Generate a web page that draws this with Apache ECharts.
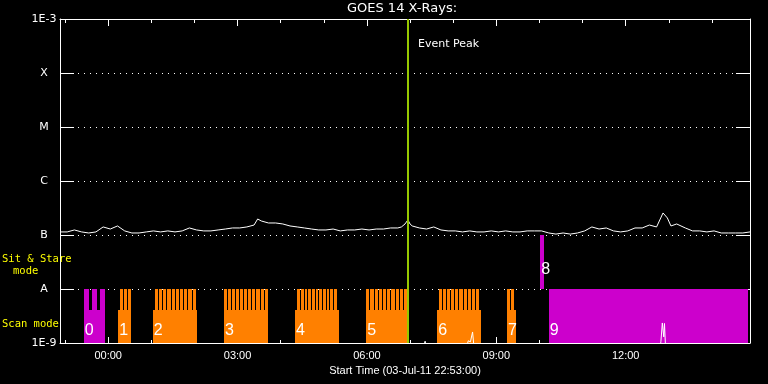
<!DOCTYPE html>
<html><head><meta charset="utf-8">
<script src="https://cdn.jsdelivr.net/npm/echarts@6/dist/echarts.min.js"></script>
<style>html,body{margin:0;padding:0;background:#000}#c{width:768px;height:384px}</style>
</head><body><div id="c"></div>
<script>
// Time is in minutes; start time 22:53 is 67 minutes before 00:00 on 04-Jul.
const startOffsetMin = -67;
const spanMin = 960;
const majorTickMin = [0, 180, 360, 540, 720];
const minorTickMin = [-60, 60, 120, 240, 300, 420, 480, 600, 660, 780, 840];
const levelExps = [-9, -8, -7, -6, -5, -4, -3];
const levelNames = ['1E-9', 'A', 'B', 'C', 'M', 'X', '1E-3'];

// Long channel flux (minutes since start, W/m^2)
const fluxMinutes = [0,10,20,30,40,50,60,70,80,90,100,110,120,130,140,150,160,170,180,190,200,210,220,230,240,250,260,270,275,280,290,300,310,320,330,340,350,360,370,380,390,400,410,420,430,440,450,460,470,475,480,484,487,490,500,510,520,530,540,550,560,570,580,590,600,610,620,630,640,650,660,670,680,690,700,710,720,730,740,750,760,770,780,790,800,810,820,830,839,845,850,858,870,880,890,900,910,920,930,940,950,960];
const fluxValues = [1.14e-7,1.14e-7,1.24e-7,1.14e-7,1.09e-7,1.14e-7,1.41e-7,1.29e-7,1.47e-7,1.19e-7,1.09e-7,1.09e-7,1.14e-7,1.19e-7,1.14e-7,1.19e-7,1.14e-7,1.19e-7,1.35e-7,1.24e-7,1.19e-7,1.19e-7,1.24e-7,1.29e-7,1.35e-7,1.35e-7,1.41e-7,1.53e-7,1.98e-7,1.82e-7,1.67e-7,1.67e-7,1.60e-7,1.47e-7,1.41e-7,1.35e-7,1.29e-7,1.24e-7,1.24e-7,1.29e-7,1.19e-7,1.24e-7,1.24e-7,1.29e-7,1.24e-7,1.29e-7,1.29e-7,1.35e-7,1.35e-7,1.41e-7,1.60e-7,1.90e-7,1.60e-7,1.47e-7,1.35e-7,1.29e-7,1.41e-7,1.24e-7,1.19e-7,1.19e-7,1.14e-7,1.19e-7,1.14e-7,1.14e-7,1.19e-7,1.14e-7,1.19e-7,1.14e-7,1.14e-7,1.19e-7,1.19e-7,1.19e-7,1.09e-7,1.04e-7,1.09e-7,1.04e-7,1.09e-7,1.19e-7,1.41e-7,1.29e-7,1.35e-7,1.19e-7,1.14e-7,1.19e-7,1.35e-7,1.35e-7,1.53e-7,1.41e-7,2.56e-7,2.07e-7,1.47e-7,1.60e-7,1.35e-7,1.19e-7,1.19e-7,1.14e-7,1.19e-7,1.09e-7,1.09e-7,1.09e-7,1.09e-7,1.14e-7];

// Short channel flux (mostly below 1E-9)
const shortMinutes = [0,502,508,512,563,568,571,574,577,833,836,838,840,841,843,960];
const shortValues = [6e-10,6e-10,1.08e-9,6e-10,6e-10,1.1e-9,1.05e-9,1.6e-9,6e-10,6e-10,1.05e-9,2.35e-9,1.3e-9,2.3e-9,6e-10,6e-10];

const eventPeakMinute = 484;

// Observing mode segments (minutes since start)
const segLabels     = ['0','1','2','3','4','5','6','7','8','9'];
const segKind       = ['m','o','o','o','o','o','o','o','m','m'];
const segStart      = [33, 81, 129, 228, 327, 426, 525, 622, 668, 680];
const segEnd        = [63, 99, 191, 289, 388, 486, 586, 634, 673, 957];
const segSpikeStart = [33, 84, 132, 228, 330, 426, 527, 622, 668, 680];
const segSpikeEnd   = [63, 99, 189, 289, 385, 483, 583, 632, 673, 957];
const segSpikeCount = [3, 3, 10, 11, 11, 10, 10, 2, 0, 0];
const segLow        = [1e-9,1e-9,1e-9,1e-9,1e-9,1e-9,1e-9,1e-9,1e-8,1e-9];
const segBaseTop    = [4.1e-9,4.1e-9,4.1e-9,4.1e-9,4.1e-9,4.1e-9,4.1e-9,4.1e-9,1e-7,1e-8];
const segHigh       = [1e-8,1e-8,1e-8,1e-8,1e-8,1e-8,1e-8,1e-8,1e-7,1e-8];

const kindColor = {m: '#cc00cc', o: '#ff8000'};
const kindGap = {m: 3, o: 1};

const toAxis = m => m + startOffsetMin;
const fluxData = fluxMinutes.map((m, i) => [toAxis(m), fluxValues[i]]);
const shortData = shortMinutes.map((m, i) => [toAxis(m), shortValues[i]]);
const segData = segStart.map((s, i) => [toAxis(s), toAxis(segEnd[i]), toAxis(segSpikeStart[i]), toAxis(segSpikeEnd[i]), segSpikeCount[i], segLow[i], segBaseTop[i], segHigh[i]]);

function fmtTime(v) {
  const t = ((Math.round(v) % 1440) + 1440) % 1440;
  const hh = Math.floor(t / 60), mm = t % 60;
  return (hh < 10 ? '0' : '') + hh + ':' + (mm < 10 ? '0' : '') + mm;
}

const chart = echarts.init(document.getElementById('c'), null, {renderer: 'canvas'});
const white = '#ffffff';
const xBase = {type: 'value', min: toAxis(0), max: toAxis(spanMin), splitLine: {show: false}};

const option = {
  backgroundColor: '#000000',
  animation: false,
  grid: {left: 60, right: 18, top: 19, bottom: 41},
  xAxis: [
    Object.assign({}, xBase, {
      position: 'bottom',
      axisLine: {show: true, onZero: false, lineStyle: {color: white, width: 1}},
      axisTick: {show: true, inside: true, length: 6, customValues: majorTickMin, lineStyle: {color: white}},
      axisLabel: {show: true, customValues: majorTickMin, formatter: fmtTime, color: white, fontFamily: 'Liberation Sans', fontSize: 11, margin: 7},
      name: 'Start Time (03-Jul-11 22:53:00)', nameLocation: 'middle', nameGap: 20,
      nameTextStyle: {color: white, fontFamily: 'Liberation Sans', fontSize: 11}
    }),
    Object.assign({}, xBase, {
      position: 'bottom',
      axisLine: {show: false, onZero: false},
      axisTick: {show: true, inside: true, length: 3, customValues: minorTickMin, lineStyle: {color: white}},
      axisLabel: {show: false}
    }),
    Object.assign({}, xBase, {
      position: 'top',
      axisLine: {show: true, onZero: false, lineStyle: {color: white, width: 1}},
      axisTick: {show: true, inside: true, length: 7, customValues: majorTickMin, lineStyle: {color: white}},
      axisLabel: {show: false}
    }),
    Object.assign({}, xBase, {
      position: 'top',
      axisLine: {show: false, onZero: false},
      axisTick: {show: true, inside: true, length: 4, customValues: minorTickMin, lineStyle: {color: white}},
      axisLabel: {show: false}
    })
  ],
  yAxis: [
    {
      type: 'log', logBase: 10, min: 1e-9, max: 1e-3, splitNumber: 6, position: 'left',
      axisLine: {show: true, onZero: false, lineStyle: {color: white, width: 1}},
      axisTick: {show: true, inside: true, length: 14, lineStyle: {color: white}},
      axisLabel: {
        show: true, color: white, fontFamily: 'DejaVu Sans', fontSize: 11, align: 'center', margin: 16,
        formatter: v => { const e = Math.round(Math.log10(v)); const k = levelExps.indexOf(e); return k >= 0 ? levelNames[k] : ''; }
      },
      splitLine: {show: true, lineStyle: {color: white, width: 1, type: [1, 5]}}
    },
    {
      type: 'log', logBase: 10, min: 1e-9, max: 1e-3, splitNumber: 6, position: 'right',
      axisLine: {show: true, onZero: false, lineStyle: {color: white, width: 1}},
      axisTick: {show: true, inside: true, length: 14, lineStyle: {color: white}},
      axisLabel: {show: false},
      splitLine: {show: false}
    }
  ],
  graphic: [
    {type: 'text', x: 402, y: 9, z: 100, style: {text: 'GOES 14 X-Rays:', fill: white, fontFamily: 'DejaVu Sans', fontSize: 13, textAlign: 'center', textVerticalAlign: 'middle'}},
    {type: 'text', x: 418, y: 44, z: 100, style: {text: 'Event Peak', fill: white, fontFamily: 'DejaVu Sans', fontSize: 11, textAlign: 'left', textVerticalAlign: 'middle'}},
    {type: 'text', x: 2, y: 259, z: 100, style: {text: 'Sit & Stare', fill: '#ffff00', fontFamily: 'DejaVu Sans Mono', fontSize: 10.5, textAlign: 'left', textVerticalAlign: 'middle'}},
    {type: 'text', x: 13, y: 271, z: 100, style: {text: 'mode', fill: '#ffff00', fontFamily: 'DejaVu Sans Mono', fontSize: 10.5, textAlign: 'left', textVerticalAlign: 'middle'}},
    {type: 'text', x: 2, y: 324, z: 100, style: {text: 'Scan mode', fill: '#ffff00', fontFamily: 'DejaVu Sans Mono', fontSize: 10.5, textAlign: 'left', textVerticalAlign: 'middle'}}
  ],
  series: [
    {
      type: 'custom', xAxisIndex: 0, yAxisIndex: 0, z: 1, silent: true,
      encode: {x: [0, 1, 2, 3], y: [5, 6, 7]},
      data: segData,
      renderItem: function (params, api) {
        const i = params.dataIndex;
        const color = kindColor[segKind[i]];
        const gap = kindGap[segKind[i]];
        const s = api.value(0), e = api.value(1), ss = api.value(2), se = api.value(3);
        const n = api.value(4), low = api.value(5), baseTop = api.value(6), high = api.value(7);
        const p0 = api.coord([s, low]), p1 = api.coord([e, baseTop]);
        const bx0 = Math.round(p0[0]), bx1 = Math.round(p1[0]);
        const children = [{type: 'rect', shape: {x: bx0, y: Math.round(p1[1]), width: bx1 - bx0, height: Math.round(p0[1]) - Math.round(p1[1])}, style: {fill: color}}];
        if (n > 0) {
          const q0 = api.coord([ss, baseTop]), q1 = api.coord([se, high]);
          const w = (q1[0] - q0[0] - (n - 1) * gap) / n;
          for (let k = 0; k < n; k++) {
            const a = Math.round(q0[0] + k * (w + gap));
            const b = Math.round(q0[0] + k * (w + gap) + w);
            children.push({type: 'rect', shape: {x: a, y: Math.round(q1[1]), width: b - a, height: Math.round(q0[1]) - Math.round(q1[1]) + 1}, style: {fill: color}});
          }
        }
        const lift = low > 1e-9 ? 11 : 4;
        children.push({type: 'text', x: p0[0] + 1, y: p0[1] - lift, style: {text: segLabels[i], fill: white, fontFamily: 'Liberation Sans', fontSize: 16, textAlign: 'left', textVerticalAlign: 'bottom'}});
        return {type: 'group', children: children};
      }
    },
    {
      type: 'line', xAxisIndex: 0, yAxisIndex: 0, z: 2, data: fluxData, showSymbol: false, symbol: 'none',
      lineStyle: {color: white, width: 1}, silent: true
    },
    {
      type: 'line', xAxisIndex: 0, yAxisIndex: 0, z: 2, data: shortData, showSymbol: false, symbol: 'none', clip: true,
      lineStyle: {color: white, width: 1}, silent: true,
      markLine: {
        silent: true, symbol: ['none', 'none'], animation: false, z: 10,
        label: {show: false},
        lineStyle: {color: '#96c800', width: 2, type: 'solid'},
        data: [{xAxis: toAxis(eventPeakMinute)}]
      }
    }
  ]
};
chart.setOption(option);
</script></body></html>
